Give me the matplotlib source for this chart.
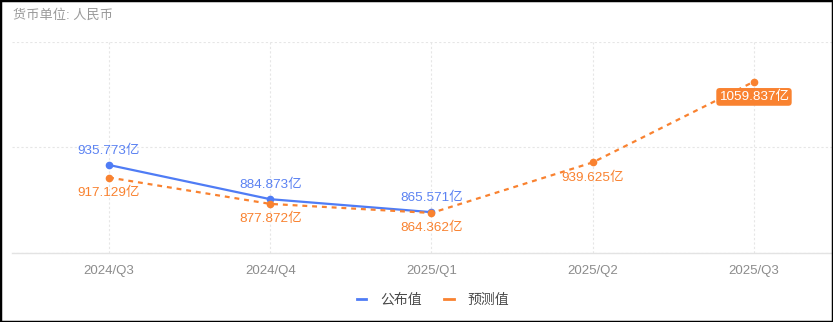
import matplotlib
matplotlib.use("Agg")
import matplotlib.pyplot as plt
from matplotlib.lines import Line2D
from matplotlib.patches import Rectangle

plt.rcParams['font.family'] = ['Liberation Sans', 'Noto Sans CJK SC', 'DejaVu Sans']

categories = ["2024/Q3", "2024/Q4", "2025/Q1", "2025/Q2", "2025/Q3"]
published = [935.773, 884.873, 865.571]
forecast = [917.129, 877.872, 864.362, 939.625, 1059.837]
series_names = ["公布值", "预测值"]
unit_title = "货币单位: 人民币"
label_suffix = "亿"

BLUE = "#4f7cf5"
BLUE_TXT = "#5b82f2"
ORANGE = "#f98230"
GRID = "#e6e6e6"

W, H = 833, 322
fig = plt.figure(figsize=(W / 100, H / 100), dpi=100)
fig.patch.set_facecolor("white")

left, right = 12 / W, 1.0
bottom, top = (H - 253) / H, (H - 42) / H
ax = fig.add_axes([left, bottom, right - left, top - bottom])

x_pub = list(range(len(published)))
x_fc = list(range(len(forecast)))

ax.plot(x_pub, published, color=BLUE, lw=1.6, marker="o", ms=4.5, zorder=3,
        solid_capstyle="round")
ax.plot(x_fc, forecast, color=ORANGE, lw=1.6, ls=(0, (2.2, 2.2)), marker="o",
        ms=4.5, zorder=4)

ax.set_xlim(-0.6016, 4.49)
ax.set_ylim(804.8, 1118.8)
ax.set_yticks([804.8, 961.8, 1118.8])
ax.set_xticks(x_fc)
ax.set_xticklabels(categories)
ax.tick_params(axis="x", length=0, pad=8.5, labelsize=9.5, labelcolor="#8c8c8c")
ax.tick_params(axis="y", length=0, labelleft=False)

for s in ["top", "right", "left"]:
    ax.spines[s].set_visible(False)
ax.spines["bottom"].set_color("#e3e3e3")
ax.spines["bottom"].set_linewidth(1.0)

ax.grid(True, color=GRID, ls=(0, (2, 2)), lw=0.8)
ax.set_axisbelow(True)

# data labels
for xi, v in zip(x_pub, published):
    ax.annotate(f"{v:.3f}{label_suffix}", (xi, v), xytext=(0, 10),
                textcoords="offset points", ha="center", va="center",
                fontsize=9.7, color=BLUE_TXT, zorder=5)
for i, (xi, v) in enumerate(zip(x_fc, forecast)):
    if i == len(forecast) - 1:
        ax.annotate(f"{v:.3f}{label_suffix}", (xi, v), xytext=(0, -11),
                    textcoords="offset points", ha="center", va="center",
                    fontsize=9.7, color="white", zorder=6,
                    bbox=dict(boxstyle="round,pad=0.2,rounding_size=0.25",
                              fc=ORANGE, ec="none"))
    else:
        ax.annotate(f"{v:.3f}{label_suffix}", (xi, v), xytext=(0, -11),
                    textcoords="offset points", ha="center", va="center",
                    fontsize=9.7, color=ORANGE, zorder=5)

fig.text(13 / W, 1 - 15 / H, unit_title, ha="left", va="center",
         fontsize=9.5, color="#9a9a9a")

handles = [Line2D([0], [0], color=BLUE, lw=2),
           Line2D([0], [0], color=ORANGE, lw=2)]
fig.legend(handles, series_names, loc="center", bbox_to_anchor=(433 / W, 1 - 300 / H),
           ncol=2, frameon=False, fontsize=10, handlelength=0.7,
           handletextpad=1.0, columnspacing=1.6, labelcolor="#4a4a4a")

fig.patches.append(Rectangle((0, 0), 1, 1, transform=fig.transFigure,
                             fill=False, ec="black", lw=2.5, zorder=10))

fig.savefig("out.png", dpi=100)
